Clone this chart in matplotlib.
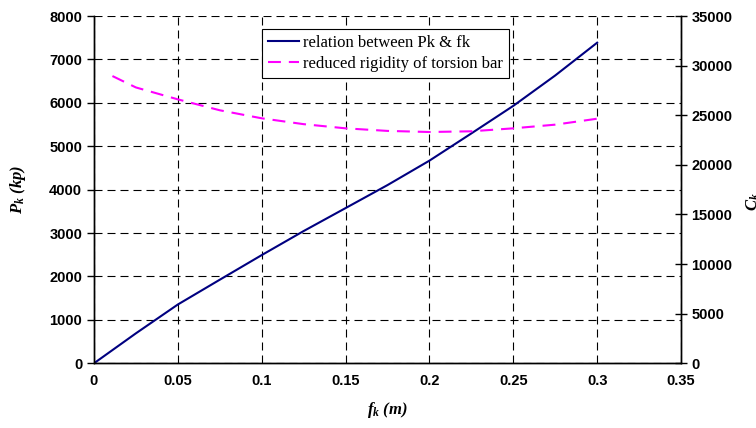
import matplotlib.pyplot as plt

plt.rcParams['mathtext.fontset'] = 'custom'
plt.rcParams['mathtext.it'] = 'Liberation Serif:bold:italic'
plt.rcParams['mathtext.rm'] = 'Liberation Serif:bold'

# deflection f_k (m) and load P_k (kp)
fk = [0.0, 0.025, 0.05, 0.075, 0.1, 0.125, 0.15, 0.175, 0.2, 0.225, 0.25, 0.275, 0.3]
pk = [0, 690, 1354, 1925, 2492, 3046, 3575, 4105, 4668, 5295, 5930, 6630, 7385]

# reduced rigidity of torsion bar (right axis)
fk_c = [0.011, 0.025, 0.05, 0.075, 0.1, 0.125, 0.15, 0.175, 0.2, 0.225, 0.25, 0.275, 0.3]
c_red = [28950, 27800, 26600, 25500, 24690, 24100, 23680, 23420, 23310, 23380, 23680, 24050, 24650]

bold = {'family': 'Liberation Sans', 'weight': 'bold', 'size': 10.5}
lab = {'family': 'Liberation Serif', 'weight': 'bold', 'style': 'italic', 'size': 12}

fig = plt.figure(figsize=(7.56, 4.28), dpi=100)
ax = fig.add_axes([0.1243, 0.1512, 0.7765, 0.8114])
ax2 = ax.twinx()

l1, = ax.plot(fk, pk, color='#000080', lw=1.5, label='relation between Pk & fk')
l2, = ax2.plot(fk_c, c_red, color='#FF00FF', lw=1.5, dashes=(6.2, 3.8),
               label='reduced rigidity of torsion bar')

ax.set_xlim(0, 0.35)
ax.set_ylim(0, 8000)
ax2.set_ylim(0, 35000)
ax.set_xticks([0, 0.05, 0.1, 0.15, 0.2, 0.25, 0.3, 0.35])
ax.set_xticklabels(['0', '0.05', '0.1', '0.15', '0.2', '0.25', '0.3', '0.35'])
ax.set_yticks(range(0, 8001, 1000))
ax2.set_yticks(range(0, 35001, 5000))

ax.grid(True, color='black', linestyle=(0, (7.2, 4.5)), lw=0.8)
for a in (ax, ax2):
    a.spines['top'].set_visible(False)
    for s in a.spines.values():
        s.set_linewidth(1.0)

ax.tick_params(axis='y', direction='out', length=5, width=1)
ax.tick_params(axis='x', direction='out', length=0, pad=8)
ax2.tick_params(axis='y', direction='inout', length=8, width=1)
for t in ax.get_xticklabels() + ax.get_yticklabels() + ax2.get_yticklabels():
    t.set_fontproperties(bold)

ax.set_xlabel('$f_k$ (m)', fontdict=lab, labelpad=8)
ax.set_ylabel('$P_k$ (kp)', fontdict=lab, labelpad=15)
# right-hand axis title sits at the very edge of the figure
fig.text(745 / 756, 1 - 211 / 428, '$C_k$', rotation=90, fontdict=lab,
         ha='left', va='bottom')

leg = ax2.legend(handles=[l1, l2], loc='upper left', bbox_to_anchor=(0.2857, 0.963),
                 borderaxespad=0,
                 prop={'family': 'Liberation Serif', 'size': 12}, frameon=True,
                 fancybox=False, edgecolor='black', framealpha=1, handlelength=1.9,
                 borderpad=0.35, labelspacing=0.3, handletextpad=0.25)
leg.get_frame().set_linewidth(0.8)

fig.savefig('out.png', dpi=100)
